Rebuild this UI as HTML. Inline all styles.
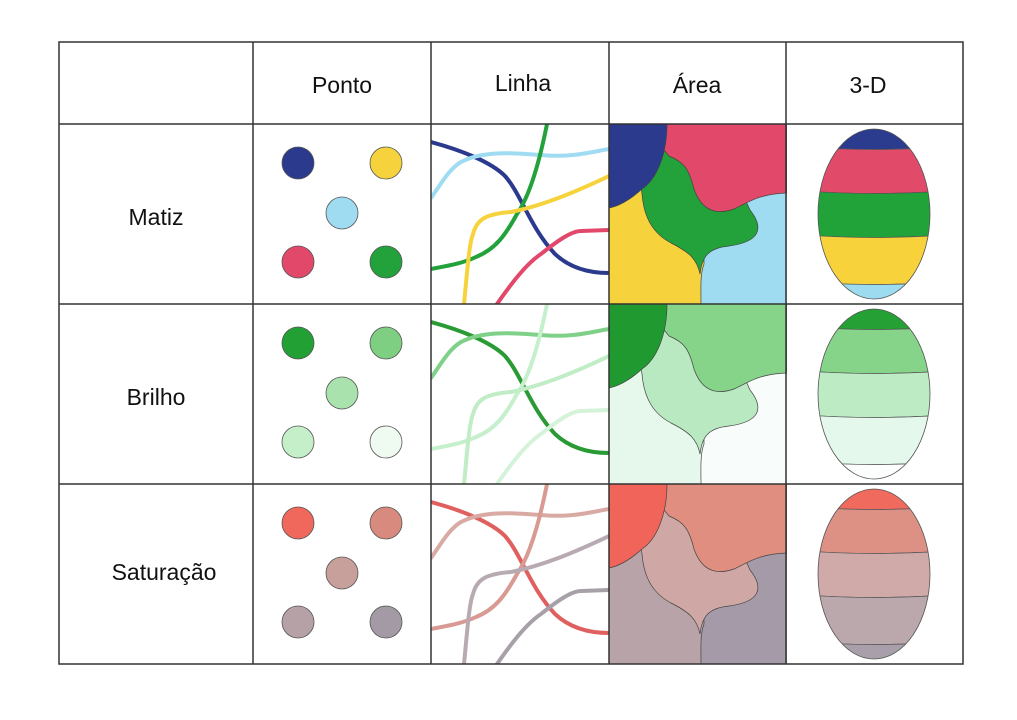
<!DOCTYPE html>
<html><head><meta charset="utf-8"><style>
html,body{margin:0;padding:0;background:#fff;}
svg{display:block;}
text{font-family:"Liberation Sans",sans-serif;font-size:23px;fill:#111;}
</style></head><body>
<svg id="s" width="1017" height="720" viewBox="0 0 1017 720">
<defs>
<clipPath id="egg"><ellipse cx="88" cy="90" rx="56" ry="85"/></clipPath>
<clipPath id="cellclip"><rect x="0" y="0" width="178" height="180"/></clipPath>
</defs>
<text x="342" y="93" text-anchor="middle">Ponto</text>
<text x="523" y="91" text-anchor="middle">Linha</text>
<text x="697" y="93" text-anchor="middle">Área</text>
<text x="868" y="93" text-anchor="middle">3-D</text>
<text x="156" y="225" text-anchor="middle">Matiz</text>
<text x="156" y="405" text-anchor="middle">Brilho</text>
<text x="164" y="580" text-anchor="middle">Saturação</text>
</svg>
<script>
const rowNames=['matiz','brilho','saturacao'];
const rowTops=[124,304,484];
const dotColors=[['#2b3a8c','#f6d33c','#9fdcf2','#e2486a','#23a13a'],
['#23a034','#7fcf83','#a9e2ad','#c5efc9','#effbf1'],
['#f0675c','#d98a7e','#c8a09b','#b6a2a6','#a39aa6']];
const lineColors=[['#2b3a8c','#9fdcf2','#23a13a','#f6d33c','#e2486a'],
['#2a9a35','#7fd088','#c6efcb','#c0ecc6','#d5f3d8'],
['#e06060','#d9aaa4','#d89a92','#b8aab2','#a8a0a8']];
const areaColors=[['#9fdcf2','#f6d33c','#23a13a','#e2486a','#2b3a8c'],
['#f8fdfb','#e6f8ec','#b9e9c0','#86d38a','#209a30'],
['#a59ba8','#b7a3a8','#cfa8a5','#e08e80','#f0645a']];
const bandColors=[['#2b3c8e','#e24a6a','#22a33a','#f7d23a','#9ddcf0'],
['#25a035','#86d48a','#bdebc3','#e4f8ec','#fbfefc'],
['#f06a5e','#dd9184','#cfaaa8','#bba8ad','#a89fab']];
const dotPos=[[45,39],[133,39],[89,89],[45,138],[133,138]];
const linePaths=[
'M0,18 C30,26 60,38 74,52 C90,70 100,105 124,130 C140,145 160,149 178,149',
'M0,74 C10,60 18,45 30,38 C55,25 90,30 110,31 C140,34 160,28 178,25',
'M116,0 C110,30 100,70 86,90 C75,110 65,125 45,133 C30,140 15,142 0,145',
'M33,180 C36,150 38,120 42,110 C46,95 55,90 80,88 C110,82 140,70 178,52',
'M66,180 C80,160 95,140 110,130 C125,118 140,107 150,107 L178,106'];
const areaPaths=[
'M0,0 H178 V180 H0 Z',
'M0,0 L95,0 L95,140 C91,150 92,165 92,180 L0,180 Z',
'M51,32 C38,42 30,55 33,70 C35,95 45,110 62,119 C80,128 88,135 91,150 C93,132 100,124 120,122 C150,118 156,105 141,86 C134,70 120,40 100,20 L60,20 Z',
'M58,0 L178,0 L178,69 C150,70 140,78 125,85 C105,92 92,85 85,65 C80,45 75,38 60,32 L50,20 Z',
'M0,0 L58,0 C58,30 48,55 33,65 C22,75 10,82 0,84 Z'];
const bandEdges=[0,23,67,111,158,180];
const svg=document.getElementById('s');
const NS='http://www.w3.org/2000/svg';
function mk(tag,attrs,parent){const e=document.createElementNS(NS,tag);for(const k in attrs)e.setAttribute(k,attrs[k]);parent.appendChild(e);return e;}
rowNames.forEach((rn,r)=>{
  const top=rowTops[r];
  const gd=mk('g',{transform:`translate(253,${top})`},svg);
  
  
  dotColors[r].forEach((c,i)=>{
    const d=mk('circle',{cx:dotPos[i][0],cy:dotPos[i][1],r:16,fill:c,stroke:'#555','stroke-width':0.8},gd);
    
    
  });
  const gl0=mk('g',{transform:`translate(431,${top})`},svg);
  const gl=mk('g',{'clip-path':'url(#cellclip)'},gl0);
  
  
  lineColors[r].forEach((c,i)=>{
    const p=mk('path',{d:linePaths[i],fill:'none',stroke:c,'stroke-width':4,'stroke-linecap':'round'},gl);
    
    
  });
  const ga0=mk('g',{transform:`translate(609,${top})`},svg);
  const ga=mk('g',{'clip-path':'url(#cellclip)'},ga0);
  
  
  areaColors[r].forEach((c,i)=>{
    const p=mk('path',{d:areaPaths[i],fill:c,stroke:i?'#444':'none','stroke-width':0.7},ga);
    
    
  });
  const g3=mk('g',{transform:`translate(786,${top})`},svg);
  
  
  const gc=mk('g',{'clip-path':'url(#egg)'},g3);
  bandColors[r].forEach((c,i)=>{
    const y0=bandEdges[i],y1=bandEdges[i+1];
    const b=mk('path',{d:`M20,${y0} Q88,${y0+(i?5:0)} 160,${y0} L160,${y1} Q88,${y1+5} 20,${y1} Z`,fill:c,stroke:'#555','stroke-width':0.7},gc);
    
    
  });
  mk('ellipse',{cx:88,cy:90,rx:56,ry:85,fill:'none',stroke:'#555','stroke-width':0.8},g3);
});
const grid=mk('g',{stroke:'#333','stroke-width':1.5,fill:'none'},svg);


mk('rect',{x:59,y:42,width:904,height:622},grid);
[253,431,609,786].forEach(x=>mk('line',{x1:x,y1:42,x2:x,y2:664},grid));
[124,304,484].forEach(y=>mk('line',{x1:59,y1:y,x2:963,y2:y},grid));
</script>
</body></html>
